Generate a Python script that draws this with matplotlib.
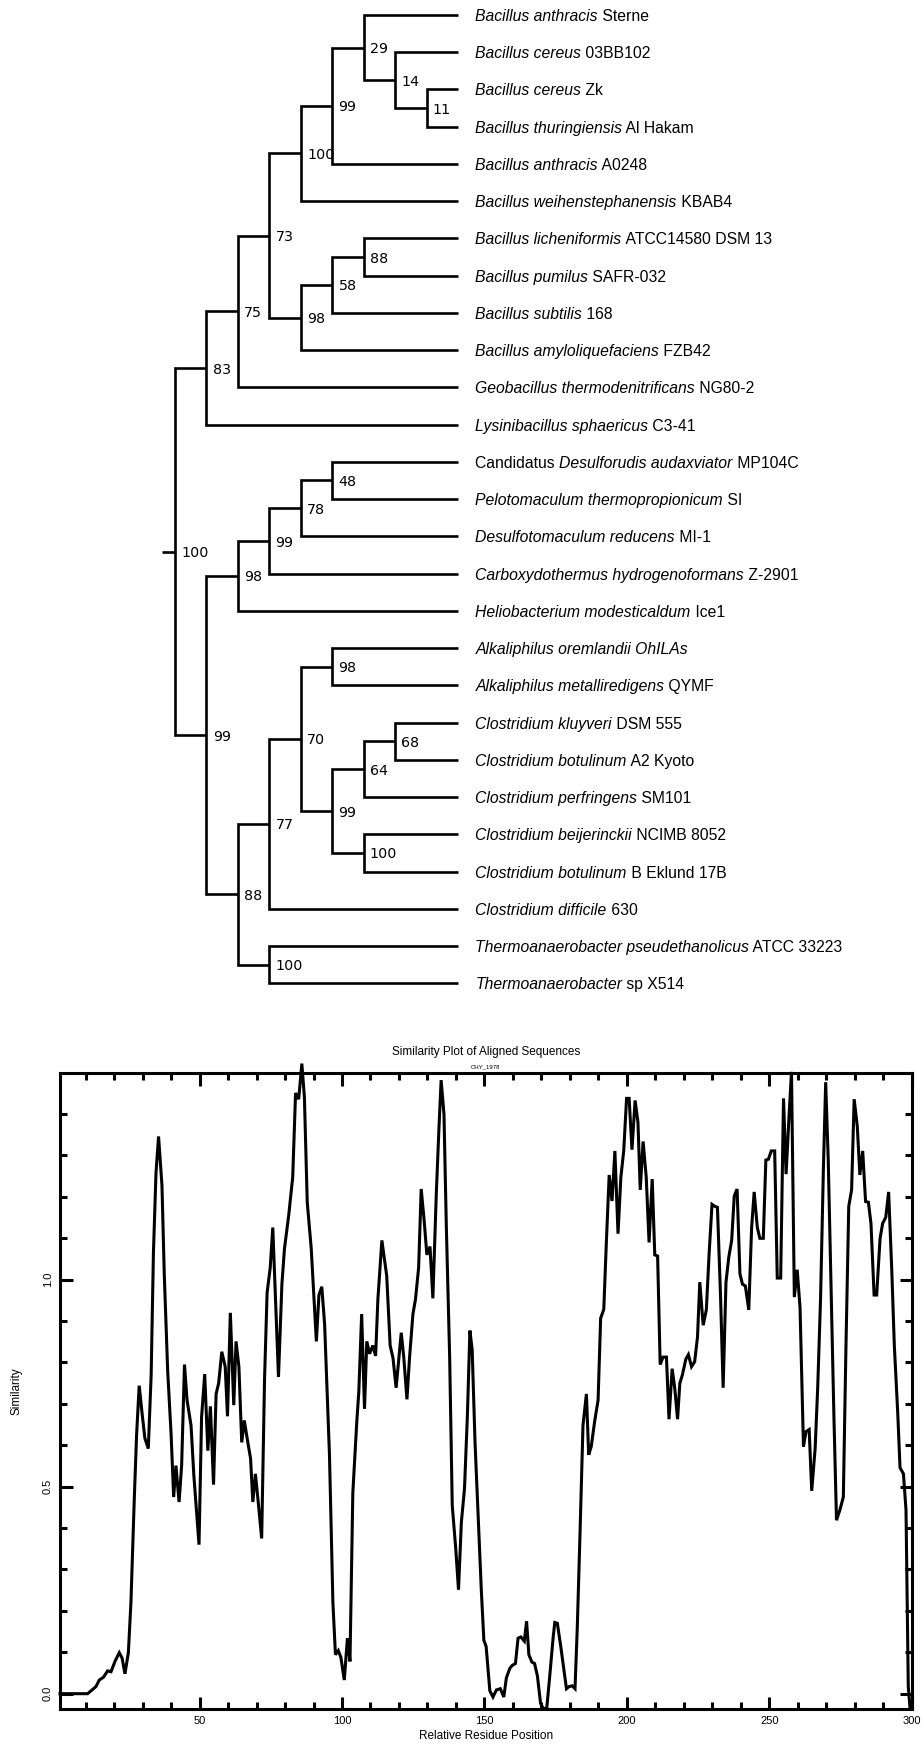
import matplotlib.pyplot as plt
import numpy as np

plt.rcParams["font.family"] = "Liberation Sans"

# ---- tree: tips numbered 1..27 top to bottom, internal labels = bootstrap ----
tree_newick = ("(((((((1,(2,(3,4)11)14)29,5)99,6)100,(((7,8)88,9)58,10)98)73,11)75,12)83,"
               "(((((13,14)48,15)78,16)99,17)98,((((18,19)98,(((20,21)68,22)64,(23,24)100)99)70,25)77,"
               "(26,27)100)88)99)100;")

leaf_pre = [""] * 12 + ["Candidatus "] + [""] * 14
leaf_ital = ["Bacillus anthracis", "Bacillus cereus", "Bacillus cereus", "Bacillus thuringiensis",
             "Bacillus anthracis", "Bacillus weihenstephanensis", "Bacillus licheniformis",
             "Bacillus pumilus", "Bacillus subtilis", "Bacillus amyloliquefaciens",
             "Geobacillus thermodenitrificans", "Lysinibacillus sphaericus",
             "Desulforudis audaxviator", "Pelotomaculum thermopropionicum",
             "Desulfotomaculum reducens", "Carboxydothermus hydrogenoformans",
             "Heliobacterium modesticaldum", "Alkaliphilus oremlandii OhILAs",
             "Alkaliphilus metalliredigens", "Clostridium kluyveri", "Clostridium botulinum",
             "Clostridium perfringens", "Clostridium beijerinckii", "Clostridium botulinum",
             "Clostridium difficile", "Thermoanaerobacter pseudethanolicus", "Thermoanaerobacter"]
leaf_post = [" Sterne", " 03BB102", " Zk", " Al Hakam", " A0248", " KBAB4", " ATCC14580 DSM 13",
             " SAFR-032", " 168", " FZB42", " NG80-2", " C3-41", " MP104C", " SI", " MI-1",
             " Z-2901", " Ice1", "", " QYMF", " DSM 555", " A2 Kyoto", " SM101", " NCIMB 8052",
             " B Eklund 17B", " 630", " ATCC 33223", " sp X514"]

# ---- similarity plot, vertices ----
sim_pos = [1.0, 10.7, 13.6, 14.8, 16.3, 17.7, 18.9, 20.3, 21.8, 22.8, 23.8, 25.0, 25.9, 27.1, 27.9,
           28.8, 29.8, 30.8, 32.0, 33.0, 33.8, 34.7, 35.6, 36.8, 37.6, 38.8, 40.0, 40.9, 41.7, 42.8,
           43.7, 44.7, 45.6, 47.0, 48.0, 49.8, 50.7, 51.8, 52.9, 53.8, 54.9, 55.8, 56.7, 57.8, 59.0,
           59.8, 60.8, 62.0, 62.8, 63.8, 64.8, 65.7, 66.7, 67.9, 68.7, 69.6, 70.7, 71.8, 72.8, 73.7,
           74.8, 75.7, 77.7, 78.9, 79.8, 81.3, 82.7, 83.7, 84.8, 85.9, 86.8, 87.8, 89.2, 91.0, 91.9,
           92.9, 93.9, 95.6, 96.8, 97.7, 98.7, 99.6, 100.8, 101.9, 102.8, 103.8, 105.2, 105.9, 106.9,
           107.9, 108.7, 109.7, 110.8, 111.8, 112.6, 114.0, 115.7, 116.9, 117.9, 119.0, 120.8, 121.7,
           122.8, 123.7, 124.9, 125.8, 126.9, 127.8, 128.8, 129.8, 130.9, 131.9, 133.1, 134.0, 134.8,
           135.8, 136.6, 137.8, 138.7, 139.9, 140.9, 141.9, 143.0, 144.0, 144.9, 145.7, 146.7, 148.0,
           148.9, 149.8, 150.6, 151.9, 153.0, 154.2, 155.6, 156.8, 157.7, 158.9, 159.7, 160.9, 161.8,
           162.8, 164.0, 164.8, 165.6, 166.7, 167.6, 168.6, 169.7, 170.7, 171.9, 173.0, 174.1, 174.7,
           175.6, 176.8, 177.7, 178.8, 179.7, 180.8, 181.8, 182.6, 183.5, 184.6, 185.8, 186.6, 187.5,
           188.7, 189.9, 190.8, 191.9, 192.8, 193.8, 194.8, 195.8, 196.9, 197.9, 198.9, 199.9, 200.8,
           201.8, 202.9, 203.9, 204.7, 205.7, 206.8, 207.8, 208.9, 209.8, 210.8, 211.7, 212.7, 213.9,
           214.8, 215.9, 216.8, 217.8, 218.6, 219.5, 220.7, 221.6, 222.7, 223.8, 224.8, 225.6, 226.8,
           227.9, 228.9, 229.9, 230.9, 231.8, 232.9, 233.8, 234.8, 235.8, 236.8, 237.7, 238.7, 239.7,
           240.6, 241.6, 242.8, 243.8, 244.7, 245.8, 246.7, 247.9, 248.8, 249.7, 250.7, 251.9, 252.8,
           254.0, 255.0, 255.9, 256.9, 257.8, 258.8, 259.8, 260.8, 262.0, 262.9, 264.0, 264.9, 266.1,
           267.0, 268.0, 269.0, 269.8, 270.7, 271.7, 272.7, 273.6, 274.8, 276.0, 276.9, 277.9, 278.9,
           279.8, 280.9, 281.8, 282.8, 283.8, 284.8, 285.7, 286.8, 287.7, 288.9, 289.8, 290.9, 291.9,
           293.0, 293.9, 295.1, 295.9, 297.1, 298.0, 298.8, 299.4]
sim_val = [0.000, 0.000, 0.017, 0.033, 0.040, 0.055, 0.053, 0.078, 0.099, 0.086, 0.048, 0.099, 0.220,
           0.475, 0.627, 0.744, 0.678, 0.617, 0.592, 0.770, 1.065, 1.258, 1.346, 1.227, 1.014, 0.780,
           0.627, 0.475, 0.551, 0.463, 0.551, 0.795, 0.709, 0.648, 0.526, 0.360, 0.668, 0.772, 0.587,
           0.694, 0.505, 0.724, 0.750, 0.826, 0.790, 0.670, 0.920, 0.697, 0.851, 0.790, 0.607, 0.660,
           0.617, 0.568, 0.463, 0.531, 0.455, 0.375, 0.758, 0.968, 1.029, 1.126, 0.765, 0.989, 1.075,
           1.156, 1.248, 1.451, 1.436, 1.522, 1.441, 1.187, 1.075, 0.851, 0.963, 0.983, 0.892, 0.577,
           0.221, 0.094, 0.104, 0.088, 0.033, 0.134, 0.078, 0.485, 0.658, 0.729, 0.917, 0.688, 0.851,
           0.821, 0.841, 0.816, 0.953, 1.095, 1.009, 0.841, 0.811, 0.739, 0.872, 0.811, 0.711, 0.811,
           0.917, 0.953, 1.029, 1.219, 1.146, 1.060, 1.080, 0.955, 1.207, 1.360, 1.482, 1.400, 1.136,
           0.811, 0.455, 0.353, 0.251, 0.414, 0.495, 0.668, 0.877, 0.831, 0.607, 0.394, 0.251, 0.129,
           0.114, 0.007, -0.008, 0.009, 0.012, -0.008, 0.038, 0.061, 0.068, 0.073, 0.134, 0.137, 0.127,
           0.175, 0.094, 0.076, 0.073, 0.043, -0.023, -0.037, -0.034, 0.048, 0.134, 0.172, 0.170, 0.114,
           0.068, 0.012, 0.017, 0.019, 0.012, 0.160, 0.373, 0.648, 0.724, 0.577, 0.597, 0.658, 0.709,
           0.907, 0.928, 1.090, 1.253, 1.190, 1.311, 1.111, 1.248, 1.311, 1.438, 1.438, 1.314, 1.433,
           1.380, 1.217, 1.334, 1.248, 1.090, 1.243, 1.060, 1.057, 0.795, 0.813, 0.813, 0.663, 0.785,
           0.739, 0.663, 0.750, 0.770, 0.808, 0.819, 0.790, 0.802, 0.861, 0.994, 0.890, 0.927, 1.065,
           1.182, 1.177, 1.175, 0.958, 0.739, 0.994, 1.055, 1.095, 1.202, 1.219, 1.014, 0.989, 0.985,
           0.927, 1.126, 1.212, 1.126, 1.100, 1.100, 1.289, 1.291, 1.311, 1.311, 1.004, 1.004, 1.438,
           1.255, 1.390, 1.502, 0.958, 1.024, 0.933, 0.597, 0.633, 0.638, 0.490, 0.592, 0.739, 0.953,
           1.268, 1.477, 1.289, 0.973, 0.668, 0.419, 0.444, 0.475, 0.831, 1.177, 1.217, 1.436, 1.370,
           1.253, 1.311, 1.189, 1.187, 1.136, 0.963, 0.963, 1.100, 1.136, 1.151, 1.212, 1.024, 0.841,
           0.678, 0.546, 0.531, 0.444, 0.017, -0.034]
assert len(sim_pos) == len(sim_val)


def parse_newick(s):
    pos = 0

    def token():
        nonlocal pos
        start = pos
        while pos < len(s) and s[pos] not in ",();":
            pos += 1
        return s[start:pos]

    def node():
        nonlocal pos
        if s[pos] == "(":
            pos += 1
            kids = [node()]
            while s[pos] == ",":
                pos += 1
                kids.append(node())
            assert s[pos] == ")"
            pos += 1
            return {"kids": kids, "label": token()}
        return {"kids": [], "tip": int(token())}

    return node()


def layout(n, depth, tips):
    n["x"] = depth
    if not n["kids"]:
        n["y"] = n["tip"] - 1
        tips.append(n)
        return depth
    d = max(layout(k, depth + 1, tips) for k in n["kids"])
    n["y"] = np.mean([k["y"] for k in n["kids"]])
    return d


def internal(n):
    if n["kids"]:
        yield n
        for k in n["kids"]:
            yield from internal(k)


fig = plt.figure(figsize=(9.22, 17.44), dpi=100)

# ---------------- tree panel ----------------
axt = fig.add_axes([0, 1 - 1000 / 1744, 1, 1000 / 1744])
axt.axis("off")
axt.set_xlim(-175 / 31.44, (922 - 175) / 31.44)
axt.set_ylim((1000 - 15) / 37.24, -15 / 37.24)

root = parse_newick(tree_newick)
tips = []
max_depth = layout(root, 0, tips)
for t in tips:
    t["x"] = max_depth

lw_tree = 1.9
for n in internal(root):
    a, b = n["kids"][0], n["kids"][1]
    axt.plot([a["x"], n["x"], n["x"], b["x"]], [a["y"], a["y"], b["y"], b["y"]],
             color="black", lw=lw_tree, solid_joinstyle="miter", solid_capstyle="butt")
    axt.annotate(n["label"], xy=(n["x"], n["y"]), xytext=(4.5, 0), textcoords="offset points",
                 ha="left", va="center_baseline", family="DejaVu Sans", fontsize=10.3)
axt.plot([root["x"] - 0.42, root["x"]], [root["y"], root["y"]], color="black", lw=lw_tree,
         solid_capstyle="butt")

for t in tips:
    i = t["tip"] - 1
    parts = [(leaf_pre[i], "normal"), (leaf_ital[i], "italic"), (leaf_post[i], "normal")]
    prev = None
    for txt, st in parts:
        if not txt:
            continue
        if prev is None:
            prev = axt.annotate(txt, xy=(t["x"], t["y"]), xytext=(12.6, 0),
                                textcoords="offset points", ha="left", va="center_baseline",
                                style=st, fontsize=11.35)
        else:
            prev = axt.annotate(txt, xy=(1, 0), xycoords=prev, ha="left", va="bottom",
                                style=st, fontsize=11.35)

# ---------------- similarity plot ----------------
ax = fig.add_axes([60 / 922, 35 / 1744, 851.7 / 922, 636.3 / 1744])
ax.plot(sim_pos, sim_val, color="black", lw=2.2, clip_on=False, solid_joinstyle="miter")
ax.set_xlim(1, 300)
ax.set_ylim(-0.037, 1.5)
ax.set_xticks([50, 100, 150, 200, 250, 300])
ax.set_xticks(np.arange(10, 300, 10), minor=True)
ax.set_yticks([0.0, 0.5, 1.0])
ax.set_yticklabels(["0.0", "0.5", "1.0"])
ax.set_yticks(np.round(np.arange(0.1, 1.5, 0.1), 1), minor=True)
for s in ax.spines.values():
    s.set_linewidth(2.2)
ax.tick_params(which="both", direction="in", top=True, right=True, width=2.2, labelsize=8)
ax.tick_params(which="major", length=9)
ax.tick_params(which="minor", length=4.7)
ax.tick_params(axis="x", pad=5.2)
ax.tick_params(axis="y", pad=8.9)
for lbl in ax.get_yticklabels():
    lbl.set_rotation(90)
    lbl.set_ha("center")
    lbl.set_va("center")

ax.set_xlabel("Relative Residue Position", fontsize=8.5)
ax.xaxis.set_label_coords(0.5, -27 / 636.3)
ax.xaxis.label.set_va("center")
ax.set_ylabel("Similarity", fontsize=8.5)
ax.yaxis.set_label_coords(-43.3 / 851.7, 0.5)
ax.yaxis.label.set_va("center")
ax.text(0.5, 1 + 20.4 / 636.3, "Similarity Plot of Aligned Sequences", transform=ax.transAxes,
        ha="center", va="center", fontsize=8.5)
ax.text(0.5, 1 + 6 / 636.3, "CHY_1978", transform=ax.transAxes, ha="center", va="center",
        fontsize=4.3)

fig.savefig("out.png", dpi=100)
